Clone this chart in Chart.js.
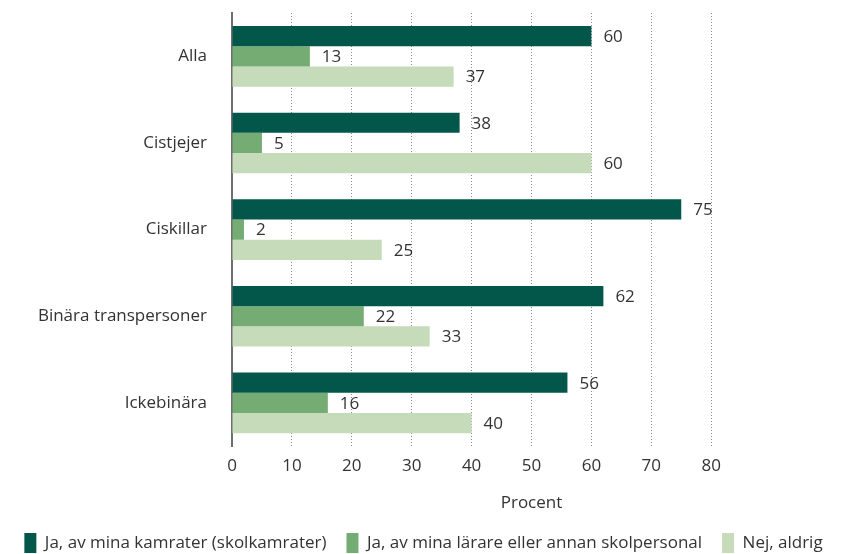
<!DOCTYPE html>
<html>
<head>
<meta charset="utf-8">
<script src="https://cdn.jsdelivr.net/npm/chart.js@4"></script>
<style>
  html, body { margin: 0; padding: 0; background: #fff; }
  #wrap { width: 847px; height: 554px; }
</style>
</head>
<body>
<div id="wrap"><canvas id="chart"></canvas></div>
<script>
// data
var categories = ["Alla", "Cistjejer", "Ciskillar", "Binära transpersoner", "Ickebinära"];
var seriesNames = [
	"Ja, av mina kamrater (skolkamrater)",
	"Ja, av mina lärare eller annan skolpersonal",
	"Nej, aldrig"
];
var kamrater = [60, 38, 75, 62, 56];
var larare = [13, 5, 2, 22, 16];
var aldrig = [37, 60, 25, 33, 40];
var xTicks = [0, 10, 20, 30, 40, 50, 60, 70, 80];

var colors = ["#02574A", "#74AC74", "#C6DBBA"];
var textColor = "#333333";
var fontFamily = "'Open Sans', 'Noto Sans', sans-serif";

// value labels to the right of each bar
var barLabels = {
	id: 'barLabels',
	afterDatasetsDraw: function (chart) {
		var ctx = chart.ctx;
		ctx.save();
		ctx.font = "17px " + fontFamily;
		ctx.fillStyle = textColor;
		ctx.textAlign = "left";
		ctx.textBaseline = "middle";
		chart.data.datasets.forEach(function (ds, i) {
			chart.getDatasetMeta(i).data.forEach(function (bar, j) {
				ctx.fillText(ds.data[j], bar.x + 12, bar.y + 1);
			});
		});
		ctx.restore();
	}
};

var ctx = document.getElementById("chart").getContext('2d');
var chart = new Chart(ctx, {
	type: 'bar',
	data: {
		labels: categories,
		datasets: [
			{ label: seriesNames[0], data: kamrater, backgroundColor: colors[0] },
			{ label: seriesNames[1], data: larare, backgroundColor: colors[1] },
			{ label: seriesNames[2], data: aldrig, backgroundColor: colors[2] }
		]
	},
	options: {
		indexAxis: 'y',
		responsive: true,
		maintainAspectRatio: false,
		animation: false,
		datasets: {
			bar: { barPercentage: 1, categoryPercentage: 0.7 }
		},
		layout: {
			padding: { top: 13, right: 0, left: 0, bottom: -9 }
		},
		scales: {
			x: {
				// axis runs to 100 but only 0-80 is labelled, like the original
				min: 0,
				max: 100,
				afterBuildTicks: function (scale) {
					scale.ticks = xTicks.map(function (v) { return { value: v }; });
				},
				grid: {
					drawTicks: false,
					color: "#8a8a8a",
					lineWidth: 1
				},
				border: { display: false, dash: [1, 2] },
				ticks: {
					padding: 10,
					color: textColor,
					font: { family: fontFamily, size: 17 }
				},
				title: {
					display: true,
					text: "Procent",
					color: textColor,
					font: { family: fontFamily, size: 17 },
					padding: { top: 6, bottom: 0 }
				}
			},
			y: {
				afterFit: function (scale) { scale.width = 232; },
				// invisible tick marks give the gap between labels and axis
				grid: {
					display: true,
					drawOnChartArea: false,
					drawTicks: true,
					tickLength: 25,
					tickColor: "rgba(0,0,0,0)"
				},
				border: { display: true, color: "#6e6e6e", width: 2 },
				ticks: {
					padding: 0,
					color: textColor,
					font: { family: fontFamily, size: 17 }
				}
			},
			// empty spacer on the right so the legend can still use the full width
			spacer: {
				type: 'linear',
				axis: 'y',
				position: 'right',
				display: true,
				afterFit: function (scale) { scale.width = 16; },
				grid: { display: false, drawTicks: false },
				border: { display: false },
				ticks: { display: false }
			}
		},
		plugins: {
			legend: {
				position: 'bottom',
				labels: {
					boxWidth: 12,
					boxHeight: 20,
					padding: 20,
					color: textColor,
					font: { family: fontFamily, size: 17 }
				}
			},
			tooltip: { enabled: false }
		}
	},
	plugins: [barLabels]
});
</script>
</body>
</html>
